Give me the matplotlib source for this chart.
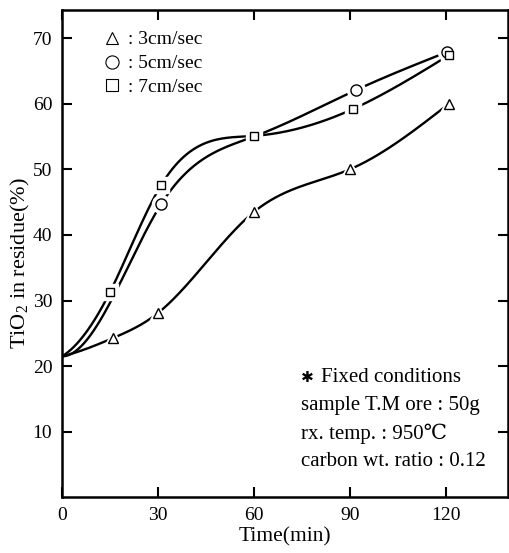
import numpy as np
import matplotlib
matplotlib.use("Agg")
import matplotlib.pyplot as plt

plt.rcParams['font.family'] = ['Liberation Serif', 'DejaVu Serif']
plt.rcParams['mathtext.fontset'] = 'custom'
plt.rcParams['mathtext.rm'] = 'Liberation Serif'

# data (first point is the common start, no marker)
t_3 = [0, 16, 30, 60, 90, 121]
v_3 = [21.5, 24.3, 28.1, 43.5, 50.0, 60.0]
t_5 = [0, 31, 60, 92, 120.5]
v_5 = [21.5, 44.7, 55.0, 62.1, 67.9]
t_7 = [0, 15, 31, 60, 91, 121]
v_7 = [21.5, 31.3, 47.6, 55.1, 59.2, 67.4]

labels = [': 3cm/sec', ': 5cm/sec', ': 7cm/sec']
notes = ['Fixed conditions', 'sample T.M ore : 50g',
         'rx. temp. : 950\u2103', 'carbon wt. ratio : 0.12']


def smooth(x, y, slope0, n=400):
    # cubic spline, clamped slope at start, natural at end - only for the drawn curve
    x = np.asarray(x, float)
    y = np.asarray(y, float)
    N = len(x)
    h = np.diff(x)
    A = np.zeros((N, N))
    b = np.zeros(N)
    A[0, 0] = 2 * h[0]
    A[0, 1] = h[0]
    b[0] = 6 * ((y[1] - y[0]) / h[0] - slope0)
    for i in range(1, N - 1):
        A[i, i - 1] = h[i - 1]
        A[i, i] = 2 * (h[i - 1] + h[i])
        A[i, i + 1] = h[i]
        b[i] = 6 * ((y[i + 1] - y[i]) / h[i] - (y[i] - y[i - 1]) / h[i - 1])
    A[-1, -1] = 1
    M = np.linalg.solve(A, b)
    xs = np.linspace(x[0], x[-1], n)
    k = np.clip(np.searchsorted(x, xs) - 1, 0, N - 2)
    a = x[k + 1] - xs
    c = xs - x[k]
    hk = h[k]
    ys = (M[k] * a**3 / (6 * hk) + M[k + 1] * c**3 / (6 * hk)
          + (y[k] / hk - M[k] * hk / 6) * a + (y[k + 1] / hk - M[k + 1] * hk / 6) * c)
    return xs, ys


fig = plt.figure(figsize=(5.10, 5.53), dpi=100)
ax = fig.add_axes([0.1216, 0.1005, 0.8745, 0.8815])

series = [(t_3, v_3, '^', 7.5, [1, 2, 3, 4, 5], 0.12),
          (t_5, v_5, 'o', 8, [1, 3, 4], 0.0),
          (t_7, v_7, 's', 6, [1, 2, 3, 4, 5], 0.3)]

for t, v, mk, ms, idx, s0 in series:
    xs, ys = smooth(t, v, s0)
    ax.plot(xs, ys, color='black', lw=1.7, zorder=2)
for t, v, mk, ms, idx, s0 in series:
    px = [t[i] for i in idx]
    py = [v[i] for i in idx]
    ax.plot(px, py, ls='none', marker=mk, ms=ms + 5, mfc='white', mec='white', zorder=3)
for t, v, mk, ms, idx, s0 in series:
    px = [t[i] for i in idx]
    py = [v[i] for i in idx]
    ax.plot(px, py, ls='none', marker=mk, ms=ms, mfc='white', mec='black', mew=1.0, zorder=4)

handles = [plt.Line2D([], [], ls='none', marker=m, ms=s, mfc='white', mec='black', mew=0.8)
           for m, s in [('^', 9), ('o', 9.5), ('s', 8)]]
ax.legend(handles, labels, loc='upper left', bbox_to_anchor=(0.052, 0.993), frameon=False,
          fontsize=14, handletextpad=0.3, handlelength=1.0, labelspacing=0.32)

ax.text(0.536, 0.245, '\u2731', transform=ax.transAxes, fontsize=11, va='center',
        family='DejaVu Sans')
ax.text(0.58, 0.245, notes[0], transform=ax.transAxes, fontsize=15, va='center')
for i, s in enumerate(notes[1:]):
    ax.text(0.536, 0.245 - (i + 1) * 0.057, s, transform=ax.transAxes, fontsize=15,
            va='center')

ax.set_xlim(0, 139.5)
ax.set_ylim(0, 74.3)
ax.set_xticks([0, 30, 60, 90, 120])
ax.set_yticks([10, 20, 30, 40, 50, 60, 70])
ax.tick_params(direction='in', length=7, width=1.5, top=True, right=True,
               labelsize=14, pad=7)
for sp in ax.spines.values():
    sp.set_linewidth(1.8)

ax.set_xlabel('Time(min)', fontsize=15.5, labelpad=2)
ax.set_ylabel('TiO$_2$ in residue(%)', fontsize=16)
ax.yaxis.set_label_coords(-0.068, 0.48)

fig.savefig('out.png', dpi=100)
